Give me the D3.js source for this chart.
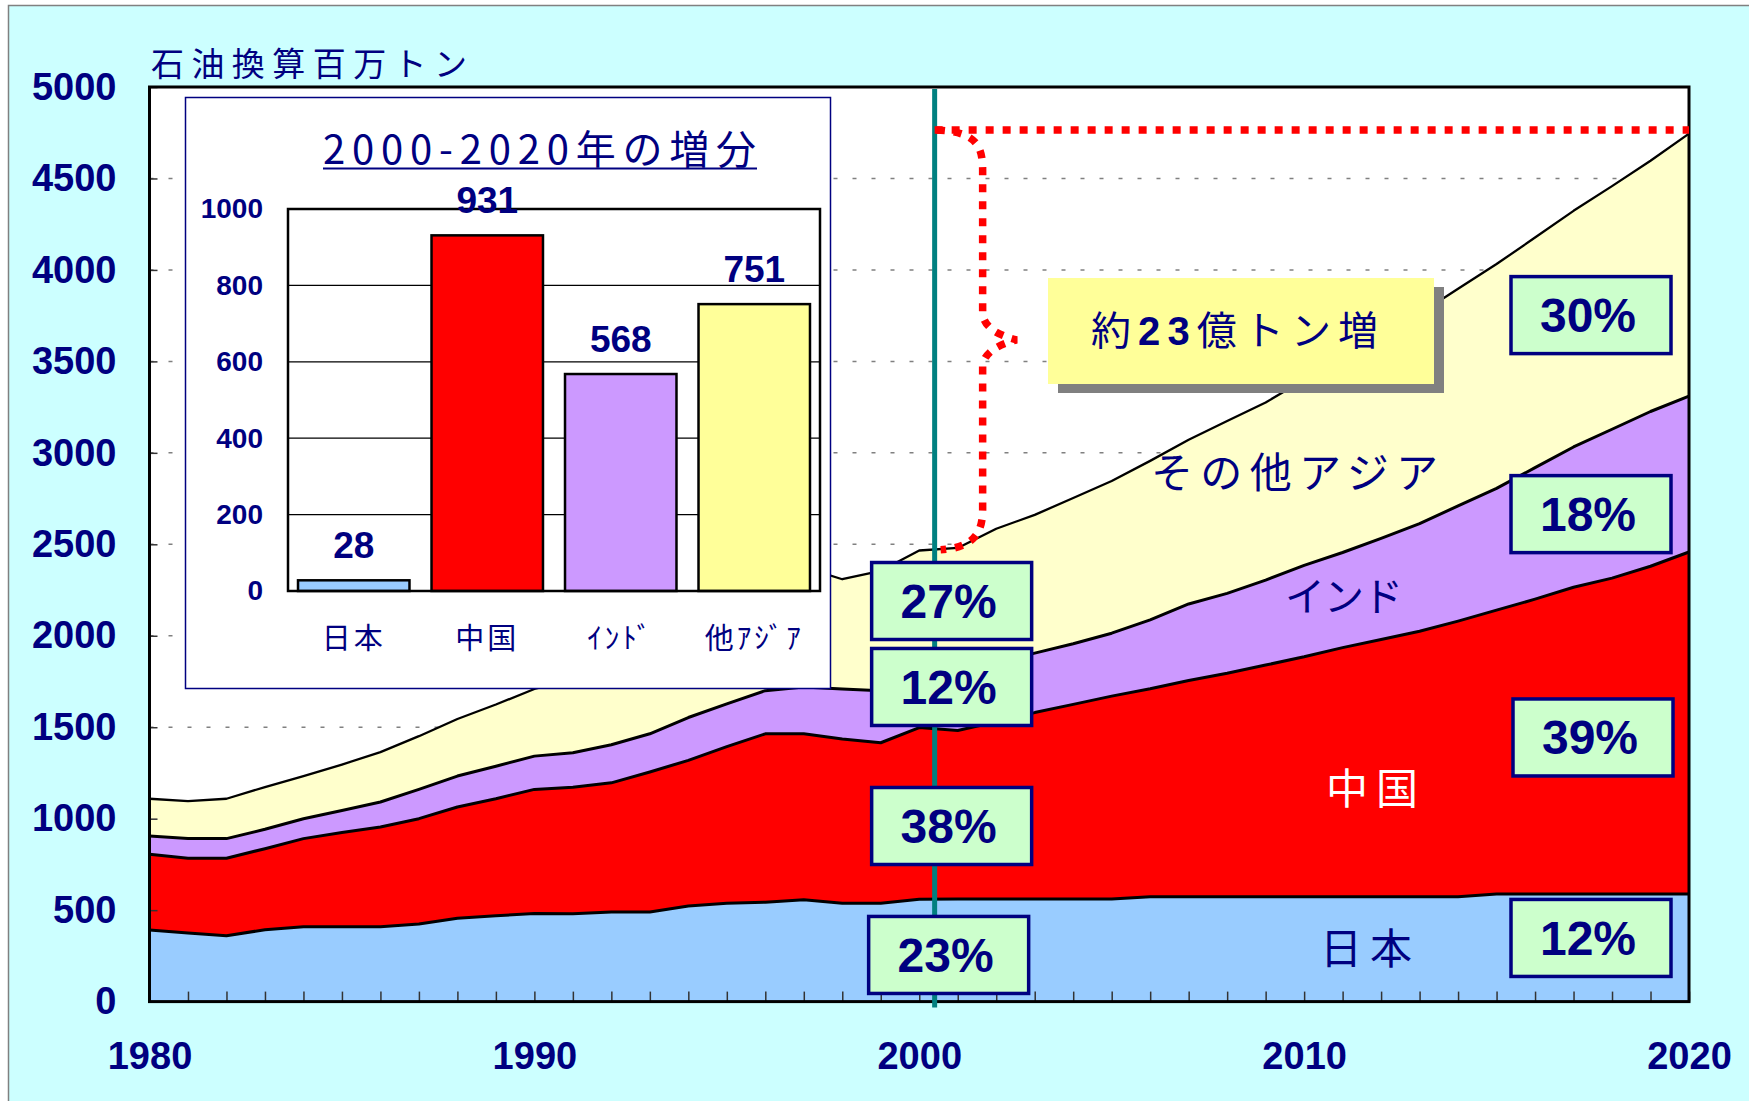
<!DOCTYPE html>
<html>
<head>
<meta charset="utf-8">
<script src="https://d3js.org/d3.v7.min.js"></script>
<style>
  body { margin: 0; background: #fff; }
  svg text { font-family: "Liberation Sans", Arial, sans-serif; }
  .jp { font-family: "Noto Sans CJK JP", sans-serif; }
</style>
</head>
<body>
<svg id="chart" width="1749" height="1101"></svg>
<script>
// energy consumption, Mtoe (stacked)
const years = [1980, 1981, 1982, 1983, 1984, 1985, 1986, 1987, 1988, 1989,
  1990, 1991, 1992, 1993, 1994, 1995, 1996, 1997, 1998, 1999,
  2000, 2001, 2002, 2003, 2004, 2005, 2006, 2007, 2008, 2009,
  2010, 2011, 2012, 2013, 2014, 2015, 2016, 2017, 2018, 2019, 2020];
const japan = [391, 375, 360, 393, 409, 409, 409, 424, 456, 469,
  482, 480, 490, 490, 523, 538, 543, 557, 538, 538,
  560, 561, 561, 561, 561, 561, 573, 573, 573, 573,
  573, 573, 573, 573, 573, 588, 588, 588, 588, 588, 588];
const china = [414, 409, 424, 443, 482, 515, 546, 576, 608, 640,
  678, 692, 706, 765, 796, 856, 921, 907, 898, 877,
  938, 921, 969, 1019, 1064, 1109, 1137, 1182, 1222, 1267,
  1312, 1362, 1407, 1452, 1507, 1552, 1612, 1677, 1727, 1792, 1870];
const india = [100, 107, 107, 106, 109, 121, 136, 160, 169, 178,
  182, 188, 208, 209, 234, 234, 236, 256, 273, 285,
  284, 323, 325, 325, 331, 344, 377, 419, 437, 464,
  500, 520, 552, 588, 630, 666, 719, 767, 814, 846, 852];
const otherAsia = [204, 205, 218, 231, 233, 251, 273, 291, 312, 337,
  367, 400, 426, 456, 477, 512, 550, 655, 600, 655,
  684, 675, 730, 756, 797, 832, 869, 898, 942, 971,
  1015, 1055, 1098, 1147, 1187, 1226, 1258, 1291, 1329, 1371, 1435];

const seriesKeys = ["japan", "china", "india", "other"];
const seriesNames = ["日本", "中国", "インド", "その他アジア"];
const seriesColors = ["#99CCFF", "#FF0000", "#CC99FF", "#FFFFCC"];
const yTicks = [0, 500, 1000, 1500, 2000, 2500, 3000, 3500, 4000, 4500, 5000];
const xLabels = [1980, 1990, 2000, 2010, 2020];

// share labels
const share2000 = ["23%", "38%", "12%", "27%"];
const share2020 = ["12%", "39%", "18%", "30%"];

// inset: increase 2000-2020
const incCats = ["日本", "中国", "ｲﾝﾄﾞ", "他ｱｼﾞｱ"];
const incValues = [28, 931, 568, 751];
const incColors = ["#99CCFF", "#FF0000", "#CC99FF", "#FFFF99"];
const incTicks = [0, 200, 400, 600, 800, 1000];

const navy = "#000080";
const svg = d3.select("#chart");

// outer frame
svg.append("rect")
  .attr("x", 8.5).attr("y", 5.5)
  .attr("width", 1800).attr("height", 1200)
  .attr("fill", "#CCFFFF").attr("stroke", "#808080").attr("stroke-width", 1.5);

const plot = { left: 149.5, top: 87, right: 1689, bottom: 1001.6 };
const x = d3.scaleLinear().domain([1980, 2020]).range([plot.left, plot.right]);
const y = d3.scaleLinear().domain([0, 5000]).range([plot.bottom, plot.top]);

svg.append("rect")
  .attr("x", plot.left).attr("y", plot.top)
  .attr("width", plot.right - plot.left).attr("height", plot.bottom - plot.top)
  .attr("fill", "white");

// dashed gridlines (under the areas)
svg.append("g")
  .selectAll("line")
  .data(yTicks.filter((d) => d > 0 && d < 5000))
  .join("line")
  .attr("x1", plot.left).attr("x2", plot.right)
  .attr("y1", (d) => y(d)).attr("y2", (d) => y(d))
  .attr("stroke", "#808080").attr("stroke-width", 1.5)
  .attr("stroke-dasharray", "4 15");

// stacked areas
const table = years.map((yr, i) => ({
  year: yr, japan: japan[i], china: china[i], india: india[i], other: otherAsia[i]
}));
const layers = d3.stack().keys(seriesKeys)(table);

const area = d3.area()
  .x((d) => x(d.data.year))
  .y0((d) => y(d[0]))
  .y1((d) => y(d[1]));
const topLine = d3.line()
  .x((d) => x(d.data.year))
  .y((d) => y(d[1]));

svg.append("g")
  .selectAll("path")
  .data(layers)
  .join("path")
  .attr("d", area)
  .attr("fill", (d, i) => seriesColors[i]);

svg.append("g")
  .selectAll("path")
  .data(layers)
  .join("path")
  .attr("d", topLine)
  .attr("fill", "none")
  .attr("stroke", "black")
  .attr("stroke-width", (d, i) => (i == 3 ? 2.3 : 3))
  .attr("stroke-linejoin", "round");

// inner tick marks
const xTickG = svg.append("g")
  .attr("transform", "translate(0," + plot.bottom + ")")
  .call(d3.axisBottom(x).tickValues(years).tickSize(-10).tickFormat(""));
xTickG.select(".domain").remove();
xTickG.selectAll("line").attr("stroke", "#333").attr("stroke-width", 1.5);

const yTickG = svg.append("g")
  .attr("transform", "translate(" + plot.left + ",0)")
  .call(d3.axisLeft(y).tickValues(yTicks).tickSize(-8).tickFormat(""));
yTickG.select(".domain").remove();
yTickG.selectAll("line").attr("stroke", "#333").attr("stroke-width", 1.5);

// plot border
svg.append("rect")
  .attr("x", plot.left).attr("y", plot.top)
  .attr("width", plot.right - plot.left).attr("height", plot.bottom - plot.top)
  .attr("fill", "none").attr("stroke", "black").attr("stroke-width", 3);

// axis labels
const yAxis = svg.append("g")
  .attr("transform", "translate(" + plot.left + ",0)")
  .call(d3.axisLeft(y).tickValues(yTicks).tickFormat(d3.format("d")).tickSize(0).tickPadding(33));
yAxis.select(".domain").remove();
yAxis.selectAll("text")
  .attr("fill", navy).attr("font-size", 38).attr("font-weight", "bold")
  .attr("font-family", "Liberation Sans, Arial, sans-serif");

const xAxis = svg.append("g")
  .attr("transform", "translate(0," + plot.bottom + ")")
  .call(d3.axisBottom(x).tickValues(xLabels).tickFormat(d3.format("d")).tickSize(0).tickPadding(40));
xAxis.select(".domain").remove();
xAxis.selectAll("text")
  .attr("fill", navy).attr("font-size", 38).attr("font-weight", "bold")
  .attr("font-family", "Liberation Sans, Arial, sans-serif");

svg.append("text")
  .attr("class", "jp")
  .attr("x", 151).attr("y", 76)
  .attr("font-size", 33).attr("fill", navy)
  .attr("textLength", 316).attr("lengthAdjust", "spacing")
  .text("石油換算百万トン");

// 2000 marker line
const markYear = 2000.4;
const xm = x(markYear);
svg.append("line")
  .attr("x1", xm).attr("x2", xm)
  .attr("y1", plot.top + 2).attr("y2", plot.bottom + 6)
  .attr("stroke", "#008080").attr("stroke-width", 5);

// increase bracket (red dotted)
const incTop = y(4765);
const incBottom = y(2470);
const mid = (incTop + incBottom) / 2;
svg.append("line")
  .attr("x1", xm).attr("x2", plot.right)
  .attr("y1", incTop).attr("y2", incTop)
  .attr("stroke", "#FF0000").attr("stroke-width", 7.5)
  .attr("stroke-dasharray", "8 9");

const bx = xm + 48;
const brace = d3.path();
brace.moveTo(xm + 2, incTop);
brace.bezierCurveTo(bx - 8, incTop + 2, bx, incTop + 14, bx, incTop + 40);
brace.lineTo(bx, mid - 26);
brace.quadraticCurveTo(bx + 2, mid - 8, bx + 34, mid);
brace.quadraticCurveTo(bx + 2, mid + 8, bx, mid + 26);
brace.lineTo(bx, incBottom - 40);
brace.bezierCurveTo(bx, incBottom - 14, bx - 12, incBottom - 2, xm + 6, incBottom);
svg.append("path")
  .attr("d", brace.toString())
  .attr("fill", "none")
  .attr("stroke", "#FF0000").attr("stroke-width", 7.5)
  .attr("stroke-dasharray", "8 9");

// callout box
const callout = { x: 1048, y: 278, w: 386, h: 106 };
svg.append("rect")
  .attr("x", callout.x + 10).attr("y", callout.y + 9)
  .attr("width", callout.w).attr("height", callout.h)
  .attr("fill", "#808080");
svg.append("rect")
  .attr("x", callout.x).attr("y", callout.y)
  .attr("width", callout.w).attr("height", callout.h)
  .attr("fill", "#FFFF99");
const ct = svg.append("text")
  .attr("class", "jp")
  .attr("x", 1091).attr("y", 345)
  .attr("font-size", 40).attr("fill", navy)
  .attr("textLength", 287).attr("lengthAdjust", "spacing");
ct.append("tspan").text("約");
ct.append("tspan").attr("font-weight", "bold")
  .attr("font-family", "Liberation Sans, Arial, sans-serif").text("23");
ct.append("tspan").text("億トン増");

// series labels
const seriesLabelPos = [
  { x: 1320, y: 964, size: 42, len: 92, fill: navy },
  { x: 1326, y: 804, size: 42, len: 92, fill: "white" },
  { x: 1285, y: 611, size: 40, len: 118, fill: navy },
  { x: 1151, y: 488, size: 42, len: 287, fill: navy }
];
svg.append("g")
  .selectAll("text")
  .data(seriesNames)
  .join("text")
  .attr("class", "jp")
  .attr("x", (d, i) => seriesLabelPos[i].x)
  .attr("y", (d, i) => seriesLabelPos[i].y)
  .attr("font-size", (d, i) => seriesLabelPos[i].size)
  .attr("textLength", (d, i) => seriesLabelPos[i].len)
  .attr("lengthAdjust", "spacing")
  .attr("fill", (d, i) => seriesLabelPos[i].fill)
  .text((d) => d);

// share boxes: anchor values on the y scale
const boxW = 160, boxH = 77;
const boxes = [];
const anchors2000 = [255, 960, 1720, 2190];
const anchors2020 = [348, 1444, 2665, 3753];
share2000.forEach((s, i) => boxes.push({ text: s, cx: xm + (i == 0 ? 14 : 17), cy: y(anchors2000[i]) }));
share2020.forEach((s, i) => boxes.push({ text: s, cx: x(2020) - 98 + (i == 1 ? 2 : 0), cy: y(anchors2020[i]) }));

const bg = svg.append("g")
  .selectAll("g")
  .data(boxes)
  .join("g")
  .attr("transform", (d) => "translate(" + d.cx + "," + d.cy + ")");
bg.append("rect")
  .attr("x", -boxW / 2).attr("y", -boxH / 2)
  .attr("width", boxW).attr("height", boxH)
  .attr("fill", "#CCFFCC").attr("stroke", navy).attr("stroke-width", 3.5);
bg.append("text")
  .attr("text-anchor", "middle")
  .attr("x", -3)
  .attr("y", 17)
  .attr("font-size", 48).attr("font-weight", "bold")
  .attr("fill", navy)
  .text((d) => d.text);

// ---- inset bar chart ----
const inset = svg.append("g");
inset.append("rect")
  .attr("x", 185.5).attr("y", 97.5)
  .attr("width", 645).attr("height", 591)
  .attr("fill", "white").attr("stroke", navy).attr("stroke-width", 1.5);

inset.append("text")
  .attr("class", "jp")
  .attr("x", 323).attr("y", 164)
  .attr("font-size", 40).attr("fill", navy)
  .attr("textLength", 433).attr("lengthAdjust", "spacing")
  .text("2000-2020年の増分");
inset.append("line")
  .attr("x1", 323).attr("x2", 757)
  .attr("y1", 168.5).attr("y2", 168.5)
  .attr("stroke", navy).attr("stroke-width", 2);

const ix = d3.scaleBand().domain(incCats).range([288, 820])
  .paddingInner(0.165).paddingOuter(0.075);
const iy = d3.scaleLinear().domain([0, 1000]).range([591, 209]);

inset.append("g")
  .selectAll("line")
  .data(incTicks.filter((d) => d > 0 && d < 1000))
  .join("line")
  .attr("x1", 288).attr("x2", 820)
  .attr("y1", (d) => iy(d)).attr("y2", (d) => iy(d))
  .attr("stroke", "black").attr("stroke-width", 1.2);

inset.append("g")
  .selectAll("rect")
  .data(incValues)
  .join("rect")
  .attr("x", (d, i) => ix(incCats[i]))
  .attr("y", (d) => iy(d))
  .attr("width", ix.bandwidth())
  .attr("height", (d) => iy(0) - iy(d))
  .attr("fill", (d, i) => incColors[i])
  .attr("stroke", "black").attr("stroke-width", 2.5);

inset.append("rect")
  .attr("x", 288).attr("y", 209)
  .attr("width", 532).attr("height", 382)
  .attr("fill", "none").attr("stroke", "black").attr("stroke-width", 2.5);

inset.append("g")
  .selectAll("text")
  .data(incValues)
  .join("text")
  .attr("x", (d, i) => ix(incCats[i]) + ix.bandwidth() / 2)
  .attr("y", (d) => iy(d) - 22)
  .attr("text-anchor", "middle")
  .attr("font-size", 37).attr("font-weight", "bold")
  .attr("fill", navy)
  .text((d) => d);

const iyAxis = inset.append("g")
  .attr("transform", "translate(288,0)")
  .call(d3.axisLeft(iy).tickValues(incTicks).tickFormat(d3.format("d")).tickSize(0).tickPadding(25));
iyAxis.select(".domain").remove();
iyAxis.selectAll("text")
  .attr("fill", navy).attr("font-size", 28).attr("font-weight", "bold")
  .attr("font-family", "Liberation Sans, Arial, sans-serif");

inset.append("g")
  .selectAll("text")
  .data(incCats)
  .join("text")
  .attr("class", "jp")
  .attr("x", (d) => ix(d) + ix.bandwidth() / 2)
  .attr("y", 649)
  .attr("text-anchor", "middle")
  .attr("font-size", 29)
  .attr("letter-spacing", 3)
  .attr("fill", navy)
  .text((d) => d);
</script>
</body>
</html>
